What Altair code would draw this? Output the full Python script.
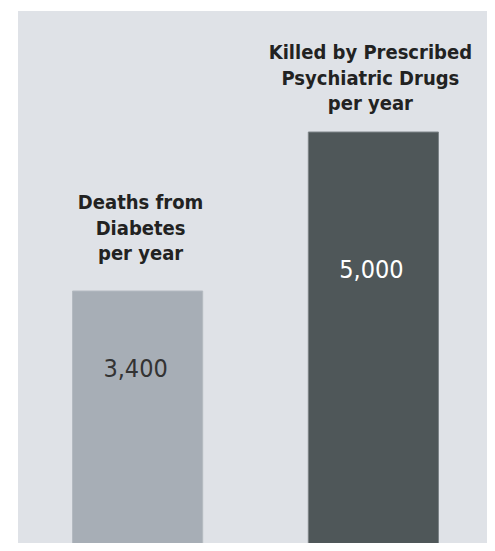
import altair as alt
import pandas as pd

keys = ["diabetes", "psychiatric"]
titles = ["Deaths from\nDiabetes\nper year", "Killed by Prescribed\nPsychiatric Drugs\nper year"]
deaths = [3400, 5000]

PANEL = "#dfe2e7"
BAR_COLORS = ["#a7aeb6", "#4f5759"]
FONT = "DejaVu Sans Condensed, Liberation Sans, sans-serif"

df = pd.DataFrame({"key": keys, "title": titles, "deaths": deaths})

x = alt.X("key:N", sort=keys, axis=None,
          scale=alt.Scale(range=[5, 470], paddingInner=0.448, paddingOuter=0.21))
y = alt.Y("deaths:Q", axis=None, scale=alt.Scale(domain=[864, 6218], zero=False, nice=False))

base = alt.Chart(df)

bars = base.mark_bar(clip=True, strokeWidth=1).encode(
    x=x, y=y,
    color=alt.Color("key:N", scale=alt.Scale(domain=keys, range=BAR_COLORS), legend=None),
    stroke=alt.Stroke("key:N", scale=alt.Scale(domain=keys, range=["#b4bac1", "#7d8487"]), legend=None),
)

def title_layer(k, dx, dy):
    return base.transform_filter(alt.datum.key == k).mark_text(
        font=FONT, fontSize=20, fontWeight="bold", color="#222222",
        lineBreak="\n", lineHeight=25.5, baseline="alphabetic", align="center", dx=dx, dy=dy,
    ).encode(x=x, y=y, text="title:N")

def value_layer(k, dx, dy, color):
    return base.transform_filter(alt.datum.key == k).mark_text(
        font=FONT, fontSize=25, color=color, baseline="alphabetic", align="center", dx=dx, dy=dy,
    ).encode(x=x, y=y, text=alt.Text("deaths:Q", format=","))

chart = alt.layer(
    bars,
    title_layer("diabetes", 3, -82),
    title_layer("psychiatric", -3, -73),
    value_layer("diabetes", -2, 86, "#333333"),
    value_layer("psychiatric", -2, 146, "#ffffff"),
).properties(
    width=469, height=532,
    autosize=alt.AutoSizeParams(type="none"),
    padding={"left": 10, "top": 3, "right": 0, "bottom": 0},
    background="#ffffff",
).configure_view(stroke=None, fill=PANEL)

chart.save("out.html", embed_options={"renderer": "svg", "actions": False})
